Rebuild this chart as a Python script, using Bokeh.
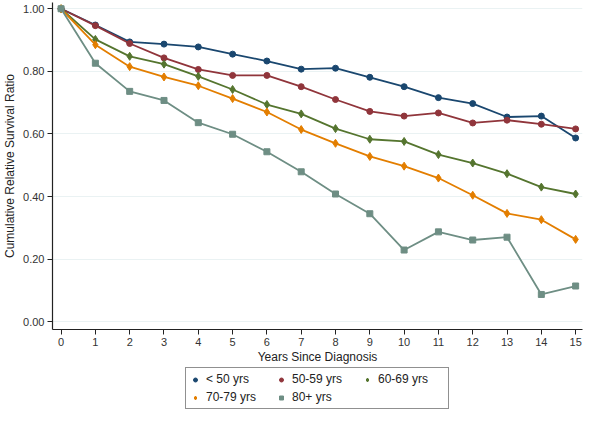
from bokeh.plotting import figure
from bokeh.layouts import column
from bokeh.models import Legend, LegendItem, Range1d, FixedTicker, PrintfTickFormatter
from bokeh.embed import file_html
from bokeh.resources import INLINE

years = list(range(16))
lt50 = [1.00, 0.948, 0.894, 0.887, 0.878, 0.855, 0.833, 0.807, 0.810, 0.781, 0.751, 0.716, 0.697, 0.654, 0.657, 0.587]
y50_59 = [1.00, 0.946, 0.889, 0.843, 0.806, 0.787, 0.787, 0.751, 0.710, 0.672, 0.657, 0.667, 0.635, 0.644, 0.631, 0.616]
y60_69 = [1.00, 0.902, 0.848, 0.823, 0.784, 0.742, 0.694, 0.664, 0.617, 0.583, 0.576, 0.534, 0.507, 0.473, 0.430, 0.408]
y70_79 = [1.00, 0.885, 0.815, 0.782, 0.754, 0.713, 0.670, 0.614, 0.570, 0.528, 0.497, 0.459, 0.404, 0.346, 0.326, 0.263]
y80p = [1.00, 0.826, 0.736, 0.707, 0.636, 0.599, 0.543, 0.479, 0.408, 0.345, 0.229, 0.287, 0.261, 0.270, 0.087, 0.114]

labels = ["< 50 yrs", "50-59 yrs", "60-69 yrs", "70-79 yrs", "80+ yrs"]
series = [lt50, y50_59, y60_69, y70_79, y80p]
colors = ["#1a476f", "#90353b", "#55752f", "#e37e00", "#6e8e84"]
markers = ["circle", "circle", "diamond", "diamond", "square"]
sizes = [6, 6, 8, 8, 6]
y_ticks = [0.0, 0.2, 0.4, 0.6, 0.8, 1.0]

FONT = "Liberation Sans"

p = figure(width=584, height=366, output_backend="svg", toolbar_location=None,
           x_range=Range1d(-0.25, 15.2), y_range=Range1d(-0.025, 1.02),
           min_border_left=2, min_border_right=2, min_border_top=2, min_border_bottom=0,
           background_fill_color="white", border_fill_color="white")
p.outline_line_color = None
p.xgrid.visible = False
p.ygrid.grid_line_color = "#eaf2f3"
p.ygrid.grid_line_width = 1.2
p.ygrid.ticker = FixedTicker(ticks=y_ticks)

p.xaxis.ticker = FixedTicker(ticks=years)
p.yaxis.ticker = FixedTicker(ticks=y_ticks)
p.yaxis.formatter = PrintfTickFormatter(format="%.2f")
for ax in (p.xaxis[0], p.yaxis[0]):
    ax.axis_line_color = "#222222"
    ax.axis_line_width = 1.2
    ax.major_tick_line_color = "#222222"
    ax.major_tick_out = 5
    ax.major_tick_in = 0
    ax.minor_tick_line_color = None
    ax.major_label_text_font = FONT
    ax.major_label_text_font_size = "11px"
    ax.major_label_text_color = "#333333"
    ax.major_label_standoff = 3
    ax.axis_label_text_font = FONT
    ax.axis_label_text_font_size = "12px"
    ax.axis_label_text_font_style = "normal"
    ax.axis_label_text_color = "#222222"
p.xaxis.axis_label = "Years Since Diagnosis"
p.yaxis.axis_label = "Cumulative Relative Survival Ratio"
p.xaxis.axis_label_standoff = 1
p.yaxis.axis_label_standoff = 3

for vals, c, m, s in zip(series, colors, markers, sizes):
    p.line(years, vals, line_color=c, line_width=1.8)
    p.scatter(years, vals, marker=m, size=s, fill_color=c, line_color=c)

# strip below the chart that holds the legend
lf = figure(width=584, height=44, output_backend="svg", toolbar_location=None,
            x_range=Range1d(100, 101), y_range=Range1d(100, 101),
            min_border_left=0, min_border_right=0, min_border_top=0, min_border_bottom=0,
            background_fill_color="white", border_fill_color="white")
lf.outline_line_color = None
lf.xaxis.visible = False
lf.yaxis.visible = False
lf.xgrid.visible = False
lf.ygrid.visible = False

items = {}
for lab, vals, c, m, s in zip(labels, series, colors, markers, sizes):
    # same data; the strip's ranges keep these points out of view, only the legend glyphs show
    r = lf.scatter(years, vals, marker=m, size=s, fill_color=c, line_color=c)
    items[lab] = LegendItem(label=lab, renderers=[r])

# column-major fill: row 1 = <50, 50-59, 60-69 ; row 2 = 70-79, 80+
order = ["< 50 yrs", "70-79 yrs", "50-59 yrs", "80+ yrs", "60-69 yrs"]
legend = Legend(items=[items[k] for k in order], ncols=3, location="center",
                border_line_color="#222222", border_line_width=1.2,
                label_text_font=FONT, label_text_font_size="12px",
                label_text_color="#222222",
                glyph_width=10, glyph_height=13, label_standoff=6,
                spacing=4, padding=4, margin=0, label_width=66,
                background_fill_color="white")
lf.add_layout(legend, "center")

open("out.html", "w").write(file_html(column(p, lf, spacing=0), INLINE))
